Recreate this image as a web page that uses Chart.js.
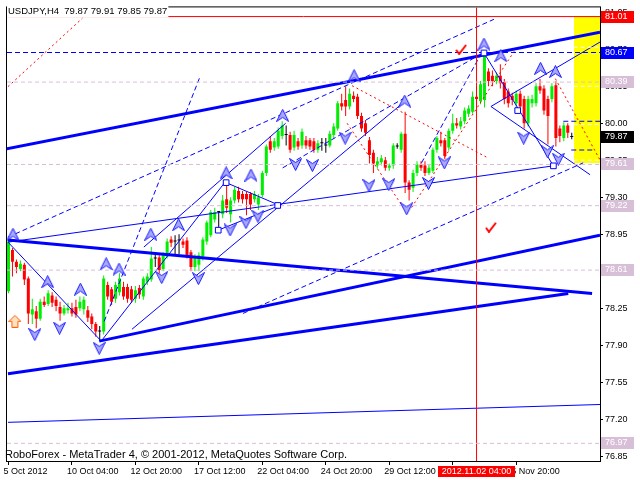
<!DOCTYPE html>
<html>
<head>
<meta charset="utf-8">
<title>USDJPY H4</title>
<script src="https://cdn.jsdelivr.net/npm/chart.js@4.4.0/dist/chart.umd.min.js"></script>
<style>
html, body { margin: 0; padding: 0; background: #ffffff; }
#wrap { width: 640px; height: 480px; }
</style>
</head>
<body>
<div id="wrap"><canvas id="chart" width="640" height="480"></canvas></div>
<script>
// USDJPY H4 bars, 5 Oct 2012 12:00 .. 8 Nov 2012 04:00
const opens = [78.41,78.80,78.69,78.62,78.66,78.53,78.19,78.22,78.15,78.31,78.29,78.37,78.33,78.26,78.20,78.23,78.25,78.26,78.25,78.24,
  78.23,78.17,78.10,78.03,78.03,78.47,78.43,78.34,78.40,78.45,78.45,78.43,78.34,78.44,78.36,78.50,78.52,78.72,78.73,78.62,
  78.74,78.90,78.88,78.89,78.88,78.89,78.78,78.64,78.66,78.74,78.88,78.94,79.09,79.16,79.14,79.28,79.14,79.27,79.36,79.33,
  79.33,79.33,79.28,79.23,79.32,79.53,79.83,79.77,79.78,79.88,79.89,79.89,79.77,79.83,79.79,79.84,79.84,79.83,79.75,79.81,
  79.79,79.79,79.89,79.95,80.19,80.22,80.16,80.26,80.25,80.07,80.00,79.84,79.72,79.60,79.63,79.65,79.58,79.60,79.78,79.75,
  79.90,79.44,79.39,79.53,79.61,79.60,79.53,79.55,79.75,79.84,79.84,79.77,79.93,80.00,79.97,80.02,80.09,80.11,80.25,80.21,
  80.22,80.49,80.45,80.40,80.45,80.39,80.30,80.26,80.19,80.28,80.23,80.00,80.19,80.19,80.35,80.33,80.23,80.23,80.36,79.95,
  79.86,79.98,79.87];
const highs = [78.90,78.82,78.71,78.70,78.68,78.55,78.34,78.27,78.34,78.36,78.42,78.40,78.36,78.31,78.28,78.30,78.30,78.33,78.36,78.36,
  78.27,78.20,78.12,78.08,78.56,78.50,78.45,78.50,78.58,78.50,78.48,78.46,78.46,78.47,78.55,78.58,78.83,78.78,78.75,78.78,
  78.91,78.93,78.94,78.95,78.91,78.92,78.80,78.76,78.78,78.92,79.08,79.18,79.20,79.17,79.32,79.44,79.30,79.40,79.40,79.36,
  79.35,79.35,79.36,79.33,79.55,79.80,79.88,79.86,79.96,80.02,79.98,79.92,79.93,79.86,79.95,79.88,79.86,79.86,79.84,79.86,
  79.86,79.93,80.00,80.21,80.28,80.35,80.33,80.30,80.28,80.10,80.03,79.87,79.75,79.68,79.70,79.68,79.62,79.81,79.81,79.92,
  80.11,79.46,79.56,79.64,79.64,79.64,79.61,79.77,79.88,79.92,79.86,79.95,80.09,80.05,80.06,80.15,80.17,80.30,80.35,80.40,
  80.67,80.52,80.50,80.48,80.56,80.42,80.33,80.29,80.31,80.31,80.26,80.26,80.27,80.38,80.42,80.36,80.26,80.38,80.40,79.98,
  80.01,80.00,79.91];
const lows = [78.39,78.55,78.58,78.60,78.47,78.10,78.10,78.06,78.13,78.26,78.27,78.26,78.22,78.13,78.18,78.20,78.17,78.16,78.22,78.19,
  78.12,78.05,77.98,77.94,78.00,78.33,78.28,78.30,78.37,78.33,78.30,78.30,78.30,78.34,78.33,78.47,78.50,78.64,78.58,78.60,
  78.72,78.83,78.75,78.76,78.82,78.72,78.60,78.60,78.60,78.70,78.85,78.92,79.06,78.99,79.10,79.15,79.06,79.24,79.25,79.24,
  79.13,79.18,79.25,79.18,79.30,79.50,79.72,79.74,79.76,79.85,79.79,79.72,79.74,79.75,79.76,79.76,79.75,79.72,79.72,79.74,
  79.72,79.77,79.86,79.93,80.12,80.07,80.13,80.20,80.04,79.92,79.88,79.62,79.53,79.57,79.60,79.55,79.55,79.57,79.76,79.72,
  79.34,79.27,79.35,79.50,79.55,79.50,79.51,79.53,79.72,79.78,79.66,79.74,79.90,79.95,79.94,79.99,80.06,80.09,80.15,80.18,
  80.15,80.35,80.35,80.37,80.33,80.18,80.15,80.17,80.14,80.12,79.95,79.97,80.15,80.16,80.28,80.08,79.80,80.20,79.78,79.82,
  79.83,79.86,79.85];
const closes = [78.88,78.69,78.64,78.67,78.52,78.20,78.24,78.15,78.31,78.28,78.39,78.30,78.27,78.20,78.25,78.25,78.20,78.19,78.31,78.33,
  78.16,78.10,78.03,78.03,78.53,78.36,78.31,78.47,78.53,78.36,78.34,78.33,78.42,78.38,78.53,78.55,78.72,78.72,78.61,78.75,
  78.88,78.87,78.88,78.89,78.85,78.75,78.64,78.72,78.75,78.90,79.06,79.16,79.16,79.16,79.27,79.20,79.27,79.37,79.28,79.28,
  79.28,79.23,79.33,79.30,79.53,79.78,79.75,79.83,79.93,79.98,79.89,79.75,79.89,79.78,79.92,79.79,79.78,79.75,79.81,79.81,
  79.79,79.90,79.97,80.19,80.16,80.16,80.28,80.23,80.07,79.95,79.91,79.70,79.62,79.64,79.67,79.58,79.60,79.79,79.78,79.90,
  79.44,79.37,79.53,79.61,79.58,79.53,79.58,79.75,79.86,79.81,79.69,79.93,80.00,79.98,80.02,80.12,80.14,80.25,80.23,80.37,
  80.64,80.40,80.40,80.45,80.38,80.23,80.19,80.22,80.28,80.16,80.00,80.23,80.23,80.35,80.31,80.12,80.07,80.35,79.86,79.88,
  79.98,79.91,79.87];

// time axis: one tick every 16 bars
const tickIndex = [0, 16, 32, 48, 64, 80, 96, 112, 128];
const tickLabels = ['5 Oct 2012', '10 Oct 04:00', '12 Oct 20:00', '17 Oct 12:00', '22 Oct 04:00',
  '24 Oct 20:00', '29 Oct 12:00', '1 Nov 04:00', '5 Nov 20:00'];
const priceTicks = [76.85, 77.20, 77.55, 77.90, 78.25, 78.60, 78.95, 79.30, 79.65, 80.00, 80.35, 80.70, 81.05];

// trend lines as [bar1, price1, bar2, price2]
const thickLines = [
  [-0.875, 79.756, 149.125, 80.862],
  [-0.125, 78.894, 147.125, 78.388],
  [22.875, 77.938, 149.125, 78.941],
  [-0.125, 77.628, 141.125, 78.388]
];
const thinLines = [
  [-0.125, 77.169, 149.125, 77.338],
  [-0.125, 78.875, 137.375, 79.597],
  [-0.125, 78.875, 23.375, 77.938],
  [23.375, 77.938, 54.875, 79.456],
  [31.125, 78.050, 99.875, 80.206],
  [34.125, 78.828, 69.875, 80.000],
  [54.875, 79.438, 68.375, 79.222],
  [52.875, 78.988, 68.375, 79.222],
  [119.875, 80.666, 137.375, 79.597],
  [121.625, 80.159, 149.125, 80.769],
  [121.625, 80.159, 146.625, 79.513]
];
const dashedLines = [
  [-0.125, 78.922, 122.375, 80.984],
  [24.125, 78.125, 48.375, 80.450],
  [59.125, 78.200, 144.875, 79.625],
  [69.125, 79.578, 119.125, 80.656],
  [104.125, 79.625, 119.125, 80.656],
  [139.875, 80.019, 149.125, 80.019],
  [141.875, 79.747, 147.375, 79.747]
];
const redDashedLines = [
  [-0.125, 80.347, 18.625, 80.994],
  [86.625, 80.356, 120.875, 79.672],
  [85.375, 80.000, 100.375, 79.156],
  [101.625, 79.203, 127.875, 80.703],
  [137.875, 80.422, 149.125, 79.653]
];

// horizontal levels
const greyLevels = [80.39, 79.61, 79.22, 78.61, 76.97];
const blueLevel = 80.67;
const redLevel = 81.01;
const lastPrice = 79.87;
const markerBar = 118;
const targetBox = [142.5, 81.01, 79.63];
const boxLines = [80.72, 80.35, 79.99, 79.65];

// arrow objects [bar, price]
const upArrows = [[1.125,78.95],[9.875,78.50],[18.125,78.43],[24.625,78.67],[27.875,78.62],[35.875,78.95],
  [42.875,79.04],[54.875,79.53],[61.125,79.51],[69.125,80.075],[87.125,80.45],[99.875,80.21],
  [119.875,80.75],[124.125,80.64],[134.125,80.52],[137.875,80.49]];
const downArrows = [[6.625,78.00],[12.875,78.06],[22.875,77.87],[38.625,78.54],[47.875,78.53],[55.875,78.99],
  [59.875,79.06],[62.875,79.12],[72.375,79.61],[76.625,79.60],[84.875,79.86],[90.875,79.41],[95.875,79.42],
  [100.375,79.19],[105.875,79.43],[109.875,79.625],[129.875,79.86],[135.875,79.73],[138.625,79.66]];
const boxMarks = [[119.875,80.666],[137.375,79.597],[67.875,79.222],[52.875,78.988],[54.875,79.438],[128.375,80.12]];
const checkMarks = [[114.125,80.70],[121.625,79.016]];
const orangeArrow = [[1.625,78.125]];

const xMin = -0.375, xMax = 149.125;
const yMin = 76.803, yMax = 81.097;
const bullColor = '#00ee00';
const bearColor = '#ff0000';
const axisFont = { family: 'Liberation Sans', size: 9 };

const candleColors = opens.map((o, i) => closes[i] > o ? bullColor : (closes[i] < o ? bearColor : '#000000'));

function segment(p, color, width, dash) {
    return {
        type: 'line',
        data: [{ x: p[0], y: p[1] }, { x: p[2], y: p[3] }],
        borderColor: color,
        borderWidth: width,
        borderDash: dash || [],
        pointRadius: 0,
        fill: false,
        tension: 0,
        order: 2
    };
}

function makeArrow(up) {
    const c = document.createElement('canvas');
    c.width = 13; c.height = 13;
    const g = c.getContext('2d');
    if (!up) { g.translate(0, 13); g.scale(1, -1); }
    g.beginPath();
    g.moveTo(6.5, 0.5); g.lineTo(12.5, 12.5); g.lineTo(6.5, 8.5); g.lineTo(0.5, 12.5);
    g.closePath();
    g.fillStyle = '#a8a8ff';
    g.fill();
    g.strokeStyle = '#1a1aff';
    g.lineWidth = 1;
    g.stroke();
    return c;
}

function makeCheck() {
    const c = document.createElement('canvas');
    c.width = 12; c.height = 11;
    const g = c.getContext('2d');
    g.beginPath();
    g.moveTo(1, 6); g.lineTo(4, 10); g.lineTo(11, 1);
    g.strokeStyle = '#ff0000';
    g.lineWidth = 2;
    g.stroke();
    return c;
}

function makeOrange() {
    const c = document.createElement('canvas');
    c.width = 13; c.height = 13;
    const g = c.getContext('2d');
    g.beginPath();
    g.moveTo(6.5, 0.5); g.lineTo(12.5, 6.5); g.lineTo(9.5, 6.5); g.lineTo(9.5, 12.5);
    g.lineTo(3.5, 12.5); g.lineTo(3.5, 6.5); g.lineTo(0.5, 6.5); g.closePath();
    g.fillStyle = '#ffe0c0';
    g.fill();
    g.strokeStyle = '#ff6000';
    g.stroke();
    return c;
}

function points(list, style, extra) {
    return Object.assign({
        type: 'line',
        data: list.map(p => ({ x: p[0], y: p[1] })),
        showLine: false,
        pointStyle: style,
        pointRadius: 6,
        order: 1
    }, extra || {});
}

const datasets = [];
datasets.push({
    type: 'bar',
    data: highs.map((h, i) => ({ x: i, y: [lows[i], h] })),
    backgroundColor: candleColors,
    barThickness: 1,
    grouped: false,
    inflateAmount: 0,
    borderWidth: 0,
    order: 11
});
datasets.push({
    type: 'bar',
    data: opens.map((o, i) => ({ x: i, y: [o, closes[i]] })),
    backgroundColor: candleColors,
    barThickness: 3,
    grouped: false,
    inflateAmount: 0,
    minBarLength: 1,
    borderWidth: 0,
    order: 10
});

greyLevels.forEach(v => datasets.push(segment([xMin, v, xMax, v], '#d8bfd8', 1, [4, 3])));
boxLines.forEach(v => datasets.push(segment([targetBox[0], v, xMax, v], '#ffffff', 1, [4, 3])));
datasets.push(segment([xMin, blueLevel, xMax, blueLevel], '#0000ff', 1, [5, 3]));
datasets.push(segment([xMin, redLevel, xMax, redLevel], '#ff0000', 1));
datasets.push(segment([markerBar, yMin, markerBar, yMax], '#ff0000', 1));
thickLines.forEach(l => datasets.push(segment(l, '#0000ff', 3)));
thinLines.forEach(l => datasets.push(segment(l, '#0000ff', 1)));
dashedLines.forEach(l => datasets.push(segment(l, '#0000ff', 1, [5, 3])));
redDashedLines.forEach(l => datasets.push(segment(l, '#ff0000', 1, [2, 3])));

datasets.push(points(upArrows, makeArrow(true)));
datasets.push(points(downArrows, makeArrow(false)));
datasets.push(points(checkMarks, makeCheck()));
datasets.push(points(orangeArrow, makeOrange()));
datasets.push(points(boxMarks, 'rect', { pointRadius: 4, backgroundColor: '#ffffff', borderColor: '#0000ff', borderWidth: 1 }));

// yellow target zone, drawn under the bars
const zonePlugin = {
    id: 'zone',
    beforeDatasetsDraw(chart) {
        const { ctx, scales: { x, y }, chartArea } = chart;
        const left = x.getPixelForValue(targetBox[0]);
        const top = y.getPixelForValue(targetBox[1]);
        const bottom = y.getPixelForValue(targetBox[2]);
        ctx.save();
        ctx.fillStyle = '#ffff00';
        ctx.fillRect(Math.round(left), Math.round(top), chartArea.right - Math.round(left), Math.round(bottom - top));
        ctx.restore();
    }
};

// texts and price boxes on top
const overlayPlugin = {
    id: 'overlay',
    afterDraw(chart) {
        const { ctx, scales: { x, y }, chartArea } = chart;
        ctx.save();
        ctx.strokeStyle = '#000000';
        ctx.lineWidth = 1;
        ctx.strokeRect(chartArea.left - 0.5, chartArea.top - 0.5, chartArea.right - chartArea.left + 1, chartArea.bottom - chartArea.top + 1);

        ctx.font = '9.5px "Liberation Sans"';
        ctx.textBaseline = 'middle';
        const title = 'USDJPY,H4  79.87 79.91 79.85 79.87';
        const tw = ctx.measureText(title).width;
        ctx.fillStyle = '#ffffff';
        ctx.fillRect(7, 4, tw + 2, 13);
        ctx.fillStyle = '#000000';
        ctx.fillText(title, 8, 11);
        ctx.font = '11px "Liberation Sans"';
        ctx.fillText('RoboForex - MetaTrader 4, \u00a9 2001-2012, MetaQuotes Software Corp.', 5, 455);

        const boxes = [[redLevel, '#ff0000', '#ffffff'], [blueLevel, '#0000ff', '#ffffff'], [lastPrice, '#000000', '#ffffff']]
            .concat(greyLevels.map(v => [v, '#d8bfd8', '#ffffff']));
        ctx.font = '9px "Liberation Sans"';
        boxes.forEach(([v, bg, fg]) => {
            const py = Math.round(y.getPixelForValue(v));
            ctx.fillStyle = bg;
            ctx.fillRect(chartArea.right + 1, py - 6, 33, 12);
            ctx.fillStyle = fg;
            ctx.fillText(v.toFixed(2), chartArea.right + 5, py);
        });

        const px = x.getPixelForValue(markerBar);
        const dl = '2012.11.02 04:00';
        const dw = ctx.measureText(dl).width + 8;
        ctx.fillStyle = '#ff0000';
        ctx.fillRect(Math.round(px - dw / 2), chartArea.bottom + 5, Math.round(dw), 11);
        ctx.fillStyle = '#ffffff';
        ctx.textAlign = 'center';
        ctx.fillText(dl, px, chartArea.bottom + 11);
        ctx.restore();
    }
};

new Chart(document.getElementById('chart'), {
    type: 'bar',
    data: { datasets: datasets },
    options: {
        responsive: false,
        animation: false,
        events: [],
        layout: { padding: { top: 3, left: 2, right: 0, bottom: 0 } },
        plugins: { legend: { display: false }, tooltip: { enabled: false } },
        scales: {
            x: {
                type: 'linear',
                min: xMin,
                max: xMax,
                offset: false,
                afterBuildTicks: s => { s.ticks = tickIndex.map(v => ({ value: v })); },
                afterFit: s => { s.height = 19; },
                ticks: {
                    callback: (v, i) => tickLabels[i],
                    align: 'start',
                    labelOffset: -5,
                    maxRotation: 0,
                    autoSkip: false,
                    padding: 1,
                    color: '#000000',
                    font: axisFont
                },
                grid: { drawOnChartArea: false, tickLength: 4, color: '#000000', offset: false },
                border: { color: '#000000' }
            },
            y: {
                position: 'right',
                min: yMin,
                max: yMax,
                afterBuildTicks: s => { s.ticks = priceTicks.map(v => ({ value: v })); },
                afterFit: s => { s.width = 40; },
                ticks: {
                    callback: v => v.toFixed(2),
                    padding: 2,
                    color: '#000000',
                    font: axisFont
                },
                grid: { drawOnChartArea: false, tickLength: 3, color: '#000000' },
                border: { color: '#000000' }
            }
        }
    },
    plugins: [zonePlugin, overlayPlugin]
});
</script>
</body>
</html>
